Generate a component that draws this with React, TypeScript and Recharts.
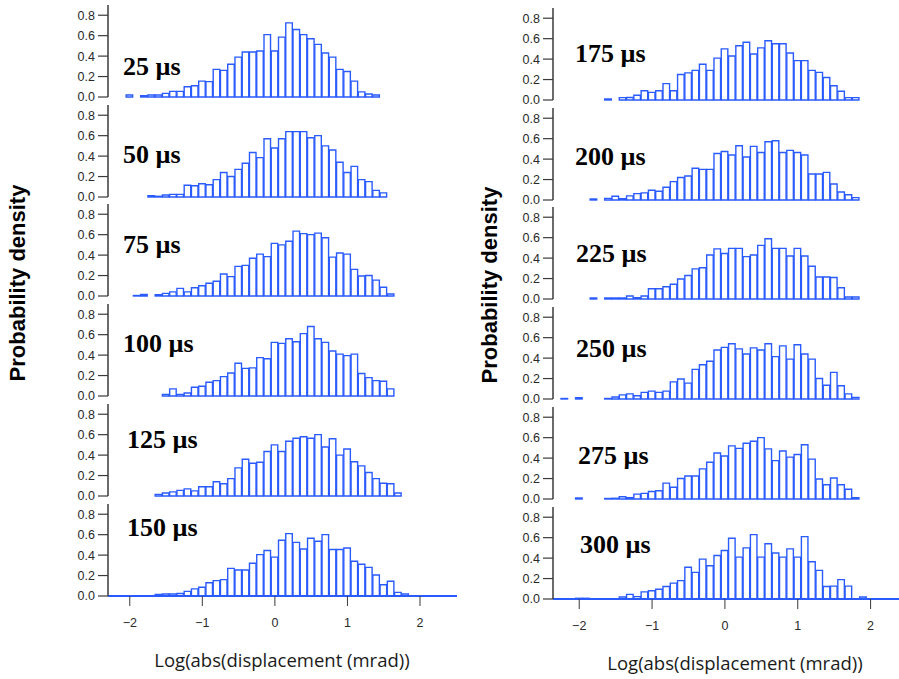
import { BarChart, Bar, XAxis, YAxis } from "recharts";

// bin centres, log10 of |displacement| (mrad)
const BINS = [
  -2.2, -2.1, -2.0, -1.9, -1.8, -1.7, -1.6, -1.5, -1.4, -1.3, -1.2, -1.1,
  -1.0, -0.9, -0.8, -0.7, -0.6, -0.5, -0.4, -0.3, -0.2, -0.1,
  0.0, 0.1, 0.2, 0.3, 0.4, 0.5, 0.6, 0.7, 0.8, 0.9, 1.0, 1.1, 1.2, 1.3, 1.4,
  1.5, 1.6, 1.7, 1.8, 1.9,
];
const Y_TICKS = [0, 0.2, 0.4, 0.6, 0.8];
const X_TICKS = [-2, -1, 0, 1, 2];

// probability density per bin, one array per delay
const D25 = [
  0, 0, 0.02, 0, 0.013, 0.02, 0.02, 0.035, 0.055, 0.055, 0.1, 0.11, 0.155, 0.15, 0.27, 0.26, 0.32, 0.39, 0.44, 0.44, 0.45, 0.61,
  0.45, 0.586, 0.725, 0.66, 0.61, 0.57, 0.515, 0.43, 0.39, 0.27, 0.25, 0.155, 0.05, 0.03, 0.02, 0, 0, 0, 0, 0,
];
const D50 = [
  0, 0, 0, 0, 0, 0.013, 0.007, 0.02, 0.026, 0.026, 0.115, 0.11, 0.13, 0.12, 0.17, 0.24, 0.2, 0.27, 0.33, 0.435, 0.385, 0.57,
  0.48, 0.57, 0.64, 0.64, 0.64, 0.58, 0.6, 0.5, 0.46, 0.34, 0.24, 0.3, 0.17, 0.15, 0.065, 0.04, 0, 0, 0, 0,
];
const D75 = [
  0, 0, 0, 0.005, 0.015, 0, 0.013, 0.026, 0.04, 0.075, 0.04, 0.08, 0.1, 0.125, 0.145, 0.215, 0.19, 0.29, 0.3, 0.37, 0.41, 0.385,
  0.515, 0.5, 0.535, 0.635, 0.61, 0.6, 0.615, 0.57, 0.38, 0.42, 0.41, 0.26, 0.195, 0.2, 0.155, 0.085, 0.02, 0, 0, 0,
];
const D100 = [
  0, 0, 0, 0, 0, 0, 0, 0.016, 0.07, 0.016, 0.03, 0.085, 0.095, 0.135, 0.15, 0.19, 0.225, 0.32, 0.27, 0.275, 0.375, 0.365,
  0.525, 0.515, 0.56, 0.53, 0.61, 0.68, 0.56, 0.525, 0.44, 0.41, 0.395, 0.41, 0.22, 0.18, 0.15, 0.145, 0.07, 0, 0, 0,
];
const D125 = [
  0, 0, 0, 0, 0, 0, 0.016, 0.03, 0.04, 0.055, 0.07, 0.05, 0.09, 0.09, 0.14, 0.12, 0.17, 0.275, 0.36, 0.32, 0.33, 0.435,
  0.5, 0.435, 0.535, 0.565, 0.58, 0.565, 0.6, 0.48, 0.56, 0.4, 0.46, 0.335, 0.295, 0.23, 0.17, 0.125, 0.12, 0.03, 0, 0,
];
const D150 = [
  0, 0, 0, 0, 0, 0, 0.016, 0.02, 0.02, 0.025, 0.045, 0.07, 0.085, 0.13, 0.15, 0.16, 0.27, 0.255, 0.255, 0.32, 0.405, 0.445,
  0.38, 0.545, 0.61, 0.525, 0.46, 0.565, 0.535, 0.6, 0.455, 0.455, 0.47, 0.34, 0.31, 0.28, 0.205, 0.11, 0.145, 0.035, 0.02, 0,
];
const D175 = [
  0, 0, 0, 0, 0, 0, 0.01, 0, 0.023, 0.025, 0.046, 0.09, 0.075, 0.09, 0.16, 0.09, 0.25, 0.265, 0.29, 0.35, 0.29, 0.41,
  0.5, 0.43, 0.53, 0.565, 0.45, 0.51, 0.58, 0.55, 0.55, 0.46, 0.385, 0.385, 0.29, 0.27, 0.22, 0.14, 0.085, 0.023, 0.023, 0,
];
const D200 = [
  0, 0, 0, 0, 0.01, 0, 0.016, 0.036, 0.013, 0.04, 0.062, 0.07, 0.095, 0.085, 0.125, 0.18, 0.22, 0.235, 0.31, 0.3, 0.3, 0.455,
  0.475, 0.44, 0.53, 0.42, 0.525, 0.465, 0.57, 0.58, 0.465, 0.485, 0.465, 0.44, 0.255, 0.255, 0.27, 0.157, 0.078, 0.052, 0.023, 0,
];
const D225 = [
  0, 0, 0, 0, 0.01, 0, 0.01, 0.01, 0.01, 0.03, 0.013, 0.03, 0.1, 0.1, 0.12, 0.145, 0.195, 0.23, 0.295, 0.305, 0.43, 0.49,
  0.445, 0.495, 0.495, 0.415, 0.43, 0.525, 0.59, 0.495, 0.495, 0.42, 0.495, 0.42, 0.32, 0.215, 0.215, 0.21, 0.11, 0.02, 0.02, 0,
];
const D250 = [
  0.005, 0, 0.013, 0, 0, 0, 0.005, 0.02, 0.04, 0.05, 0.032, 0.065, 0.077, 0.065, 0.077, 0.168, 0.195, 0.155, 0.29, 0.335, 0.37, 0.48,
  0.505, 0.54, 0.49, 0.44, 0.5, 0.48, 0.54, 0.415, 0.52, 0.39, 0.53, 0.44, 0.39, 0.2, 0.135, 0.26, 0.13, 0.05, 0.016, 0,
];
const D275 = [
  0, 0, 0.01, 0, 0, 0, 0.005, 0.007, 0.022, 0.013, 0.048, 0.055, 0.074, 0.08, 0.155, 0.115, 0.2, 0.225, 0.225, 0.295, 0.36, 0.45,
  0.42, 0.52, 0.495, 0.545, 0.565, 0.6, 0.49, 0.375, 0.47, 0.41, 0.435, 0.53, 0.39, 0.195, 0.14, 0.205, 0.14, 0.095, 0.013, 0,
];
const D300 = [
  0, 0, 0.007, 0.007, 0, 0, 0, 0, 0.02, 0.045, 0.023, 0.07, 0.08, 0.095, 0.123, 0.155, 0.18, 0.31, 0.26, 0.39, 0.325, 0.425,
  0.475, 0.595, 0.41, 0.5, 0.63, 0.41, 0.54, 0.45, 0.41, 0.49, 0.41, 0.61, 0.365, 0.28, 0.123, 0.126, 0.19, 0.126, 0, 0.02,
];

const LEFT_LABELS = ["25 µs", "50 µs", "75 µs", "100 µs", "125 µs", "150 µs"];
const RIGHT_LABELS = ["175 µs", "200 µs", "225 µs", "250 µs", "275 µs", "300 µs"];
const LEFT_DATA = [D25, D50, D75, D100, D125, D150];
const RIGHT_DATA = [D175, D200, D225, D250, D275, D300];

const BLUE = "#2a5bff";
const AXIS = "#3a3a3a";
const PLOT_H = 92;
const TOP_PAD = 4;
const LOW_PAD = 9; // room for the "0.0" label on panels without an x axis
const AXIS_H = 44;

// baselines (y of 0.0) and label anchors, page px
const LEFT_BASE = [97.3, 196.7, 296, 396, 496, 595.7];
const RIGHT_BASE = [100, 200, 299.3, 399.3, 499, 599];
const LEFT_LBL = [[123, 75], [123, 163], [123, 253], [123, 352], [127, 448], [127, 536]];
const RIGHT_LBL = [[575, 62], [575, 165], [576, 262], [576, 357], [578, 464], [580, 553]];

const fmtX = (v: number) => (v < 0 ? "\u2212" + Math.abs(v) : String(v));
const tickFont = { fill: "#2a2a2a", fontSize: 12.5, fontFamily: "Liberation Sans, Arial" };

type PanelProps = {
  values: number[];
  left: number;
  base: number;
  width: number;
  yAxisW: number;
  rightPad: number;
  xDomain: [number, number];
  bottom: boolean;
};

function Panel({ values, left, base, width, yAxisW, rightPad, xDomain, bottom }: PanelProps) {
  const rows = BINS.map((x, i) => ({ x, v: values[i] }));
  const plotW = width - yAxisW - rightPad;
  const barSize = (plotW / (xDomain[1] - xDomain[0])) * 0.1;
  const lowPad = bottom ? 0 : LOW_PAD;
  const height = TOP_PAD + PLOT_H + (bottom ? AXIS_H : lowPad);

  return (
    <div style={{ position: "absolute", left, top: base - PLOT_H - TOP_PAD }}>
      <BarChart
        width={width}
        height={height}
        data={rows}
        margin={{ top: TOP_PAD, right: rightPad, left: 0, bottom: lowPad }}
        barCategoryGap={0}
        barGap={0}
      >
        <XAxis
          dataKey="x"
          type="number"
          domain={xDomain}
          allowDataOverflow
          ticks={X_TICKS}
          interval={0}
          height={bottom ? AXIS_H : 0}
          axisLine={{ stroke: BLUE, strokeWidth: 2 }}
          tick={bottom ? tickFont : false}
          tickLine={bottom ? { stroke: AXIS } : false}
          tickSize={10}
          tickMargin={12}
          tickFormatter={fmtX}
        />
        <YAxis
          type="number"
          domain={[0, 0.9]}
          ticks={Y_TICKS}
          interval={0}
          width={yAxisW}
          axisLine={{ stroke: AXIS, strokeWidth: 1.5 }}
          tickLine={{ stroke: AXIS, strokeWidth: 1.2 }}
          tick={tickFont}
          tickSize={10}
          tickMargin={3}
          tickFormatter={(v: number) => v.toFixed(1)}
        />
        <Bar
          dataKey="v"
          fill="#fff"
          stroke={BLUE}
          strokeWidth={1.4}
          barSize={barSize}
          isAnimationActive={false}
        />
      </BarChart>
    </div>
  );
}

export default function App() {
  const serif = { fontFamily: "Liberation Serif, Times New Roman, serif", fontWeight: 700, fontSize: 26 };
  const title = { fontFamily: "Open Sans, sans-serif", fontSize: 18.5, fill: "#1a1a1a" };
  const ytitle = { fontFamily: "Liberation Sans, Arial, sans-serif", fontWeight: 700, fontSize: 22, fill: "#000" };

  return (
    <div style={{ position: "absolute", left: 0, top: 0, width: 899, height: 679, background: "#fff", overflow: "hidden" }}>
      {LEFT_DATA.map((d, i) => (
        <Panel
          key={"l" + i}
          values={d}
          left={60}
          base={LEFT_BASE[i]}
          width={400}
          yAxisW={48}
          rightPad={3}
          xDomain={[-2.3, 2.51]}
          bottom={i === LEFT_DATA.length - 1}
        />
      ))}
      {RIGHT_DATA.map((d, i) => (
        <Panel
          key={"r" + i}
          values={d}
          left={505}
          base={RIGHT_BASE[i]}
          width={394}
          yAxisW={48}
          rightPad={0}
          xDomain={[-2.36, 2.39]}
          bottom={i === RIGHT_DATA.length - 1}
        />
      ))}
      <svg width={899} height={679} style={{ position: "absolute", left: 0, top: 0, pointerEvents: "none" }}>
        {LEFT_LABELS.map((t, i) => (
          <text key={t} x={LEFT_LBL[i][0]} y={LEFT_LBL[i][1]} style={serif}>{t}</text>
        ))}
        {RIGHT_LABELS.map((t, i) => (
          <text key={t} x={RIGHT_LBL[i][0]} y={RIGHT_LBL[i][1]} style={serif}>{t}</text>
        ))}
        <text x={282} y={667} textAnchor="middle" style={title}>Log(abs(displacement (mrad))</text>
        <text x={735} y={670} textAnchor="middle" style={title}>Log(abs(displacement (mrad))</text>
        <text x={25} y={283} textAnchor="middle" transform="rotate(-90 25 283)" style={ytitle}>Probability density</text>
        <text x={497} y={285} textAnchor="middle" transform="rotate(-90 497 285)" style={ytitle}>Probability density</text>
      </svg>
    </div>
  );
}
